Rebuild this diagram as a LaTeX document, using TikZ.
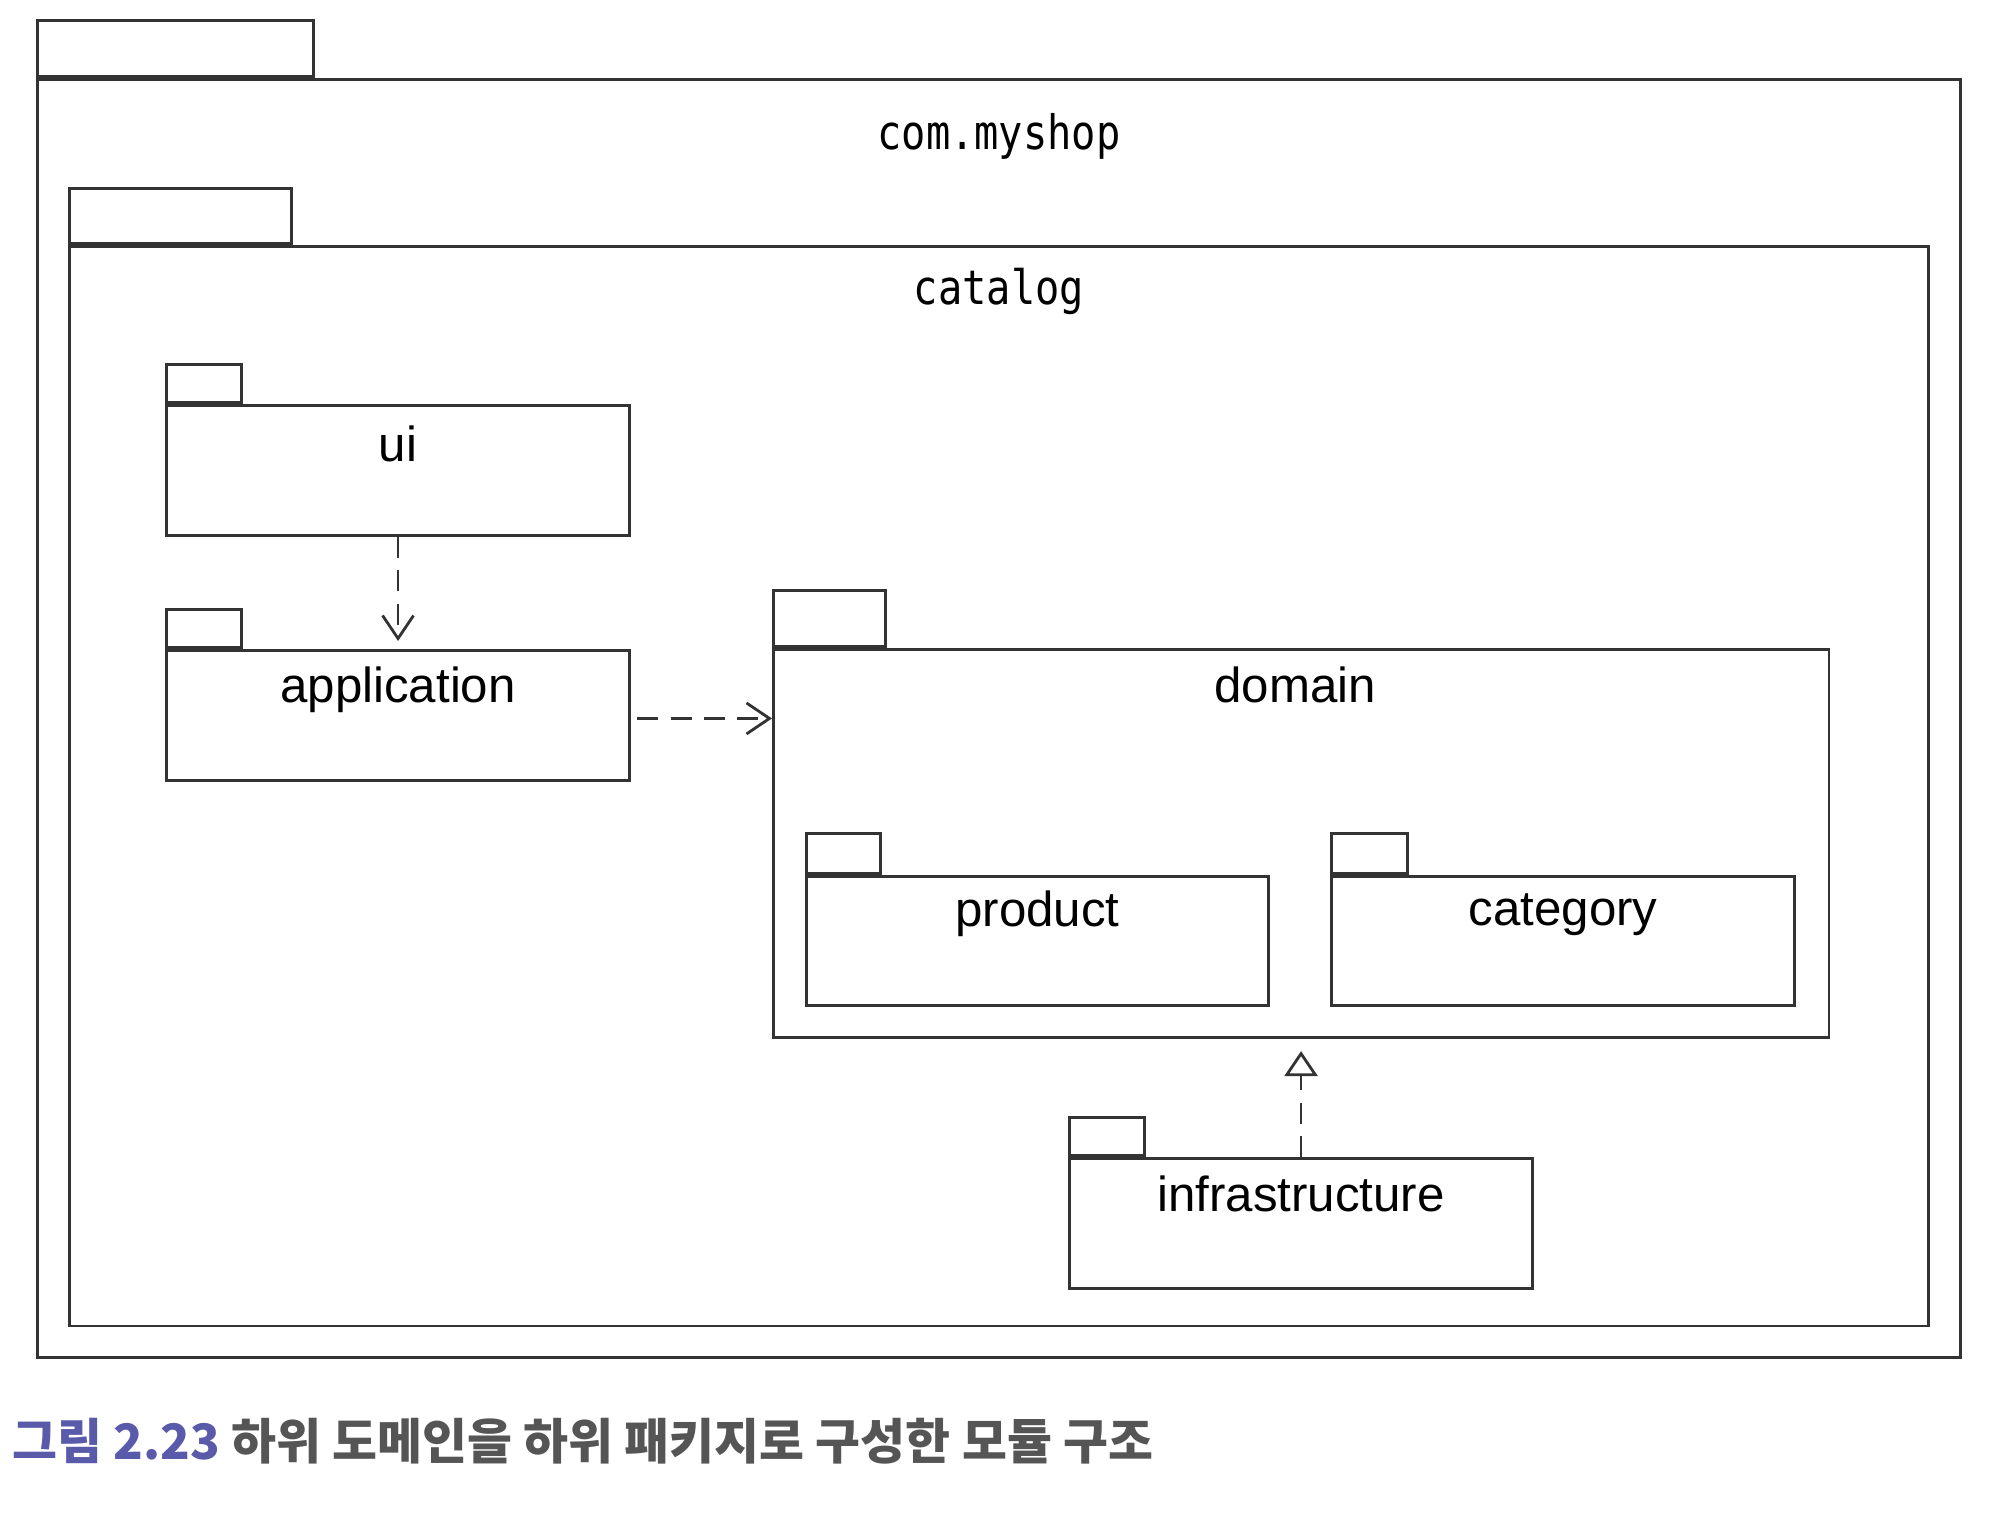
\documentclass[tikz,border=0pt]{standalone}
\usepackage{fontspec}
\setmainfont{Liberation Sans}
\newfontfamily\pkgmono[FakeStretch=0.85]{DejaVu Sans Mono}
\newfontfamily\krfont{Noto Sans CJK KR}
\usetikzlibrary{arrows.meta,positioning}
\definecolor{capblue}{HTML}{5A5AAA}
\definecolor{capgray}{HTML}{555555}
\definecolor{pkgline}{HTML}{333333}

\begin{document}
\begin{tikzpicture}[
    x=0.01cm, y=-0.01cm,
    pkgbody/.style={draw=pkgline, line width=0.8pt, anchor=north west, inner sep=0pt},
    pkgtab/.style={draw=pkgline, line width=0.8pt, anchor=south west, inner sep=0pt},
    pkgname/.style={anchor=north, inner sep=0pt, font=\fontsize{14}{16}\selectfont},
    mononame/.style={anchor=north, inner sep=0pt, font=\pkgmono\fontsize{13.5}{16}\selectfont},
    depend/.style={draw=pkgline, line width=0.8pt, dash pattern=on 6pt off 3.5pt,
        -{Straight Barb[length=0.23cm, width=0.31cm, line width=0.8pt]}},
    realize/.style={draw=pkgline, line width=0.8pt, dash pattern=on 6pt off 3.5pt,
        -{Triangle[open, length=0.25cm, width=0.33cm, line width=0.8pt]}}
]
\useasboundingbox (0,0) rectangle (2000,1518);

% outer packages
\node[pkgbody, minimum width=19.22cm, minimum height=12.77cm] (shop) at (36,78) {};
\node[pkgtab, minimum width=2.76cm, minimum height=0.56cm] (shoptab) at (shop.north west) {};
\node[mononame, below=0.35cm of shop.north] (shopname) {com.myshop};

\node[pkgbody, minimum width=18.58cm, minimum height=10.79cm] (catalog) at (68,245) {};
\node[pkgtab, minimum width=2.22cm, minimum height=0.55cm] (catalogtab) at (catalog.north west) {};
\node[mononame, below=0.22cm of catalog.north] (catalogname) {catalog};

% layers
\node[pkgbody, minimum width=4.63cm, minimum height=1.30cm] (ui) at (165,404) {};
\node[pkgtab, minimum width=0.75cm, minimum height=0.38cm] (uitab) at (ui.north west) {};
\node[pkgname, below=0.21cm of ui.north] (uiname) {ui};

\node[pkgbody, minimum width=4.63cm, minimum height=1.30cm] (app) at (165,649) {};
\node[pkgtab, minimum width=0.75cm, minimum height=0.38cm] (apptab) at (app.north west) {};
\node[pkgname, below=0.17cm of app.north] (appname) {application};

\node[pkgbody, minimum width=10.55cm, minimum height=3.88cm] (domain) at (772,648) {};
\node[pkgtab, minimum width=1.12cm, minimum height=0.56cm] (domaintab) at (domain.north west) {};
\node[pkgname, below=0.18cm of domain.north, xshift=-0.06cm] (domainname) {domain};

\node[pkgbody, minimum width=4.62cm, minimum height=1.29cm] (product) at (805,875) {};
\node[pkgtab, minimum width=0.74cm, minimum height=0.40cm] (producttab) at (product.north west) {};
\node[pkgname, below=0.15cm of product.north] (productname) {product};

\node[pkgbody, minimum width=4.63cm, minimum height=1.29cm] (category) at (1330,875) {};
\node[pkgtab, minimum width=0.76cm, minimum height=0.40cm] (categorytab) at (category.north west) {};
\node[pkgname, below=0.18cm of category.north] (categoryname) {category};

\node[pkgbody, minimum width=4.63cm, minimum height=1.30cm] (infra) at (1068,1157) {};
\node[pkgtab, minimum width=0.75cm, minimum height=0.38cm] (infratab) at (infra.north west) {};
\node[pkgname, below=0.18cm of infra.north] (infraname) {infrastructure};

% dependencies
\draw[depend, shorten >=0.08cm] (ui.south) -- (app.north);
\draw[depend, shorten <=0.06cm] ([yshift=-0.03cm]app.east) -- ([yshift=-0.03cm]app.east -| domain.west);
\draw[realize, shorten >=0.12cm] (infra.north) -- (infra.north |- domain.south);

% caption
\node[anchor=west, inner sep=0pt, font=\krfont\bfseries\fontsize{13.9}{16}\selectfont, text=capgray]
    (caption) at (12,1441) {\textcolor{capblue}{그림 2.23} 하위 도메인을 하위 패키지로 구성한 모듈 구조};
\end{tikzpicture}
\end{document}
